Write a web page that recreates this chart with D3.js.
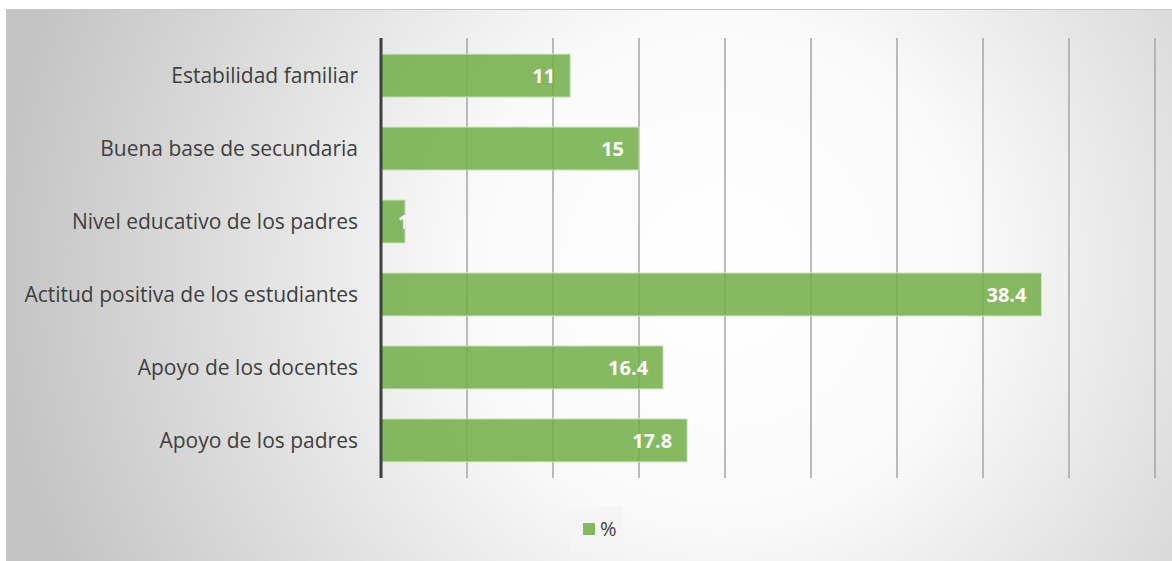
<!DOCTYPE html>
<html>

<head>
  <meta charset="utf-8">
  <title>Factores</title>
  <script type="text/javascript" src="https://cdn.jsdelivr.net/npm/d3@7"></script>
  <style type="text/css">
    body {
      margin: 0;
      background: #ffffff;
    }

    text {
      font-family: "Open Sans", "Liberation Sans", sans-serif;
    }
  </style>
</head>

<body>
  <div id="grafico"></div>

  <script type="text/javascript">
    // Datos
    const categorias = [
      "Estabilidad familiar",
      "Buena base de secundaria",
      "Nivel educativo de los padres",
      "Actitud positiva de los estudiantes",
      "Apoyo de los docentes",
      "Apoyo de los padres"
    ];
    const valores = [11, 15, 1.4, 38.4, 16.4, 17.8];
    const serie = "%";
    const ticks = [0, 5, 10, 15, 20, 25, 30, 35, 40, 45];

    const w = 1172;
    const h = 561;
    const margin = { left: 381, right: 17, top: 38, bottom: 83 };

    const svg = d3.select("#grafico")
      .append("svg")
      .attr("width", w)
      .attr("height", h);

    // Baggrund med radial gradient
    const defs = svg.append("defs");
    const grad = defs.append("radialGradient")
      .attr("id", "bg")
      .attr("gradientUnits", "userSpaceOnUse")
      .attr("cx", 720).attr("cy", 270).attr("r", 720);
    grad.append("stop").attr("offset", "0").attr("stop-color", "#ffffff");
    grad.append("stop").attr("offset", "0.35").attr("stop-color", "#fafafa");
    grad.append("stop").attr("offset", "1").attr("stop-color", "#c4c4c4");

    svg.append("rect")
      .attr("x", 6).attr("y", 9)
      .attr("width", w - 6).attr("height", h - 9)
      .attr("fill", "url(#bg)");
    svg.append("line")
      .attr("x1", 6).attr("x2", w)
      .attr("y1", 9.5).attr("y2", 9.5)
      .attr("stroke", "#c8c8c8").attr("stroke-width", 1);

    const x = d3.scaleLinear()
      .domain([0, 45])
      .range([margin.left, w - margin.right]);

    const y = d3.scaleBand()
      .domain(categorias)
      .range([margin.top, h - margin.bottom])
      .paddingInner(0.41)
      .paddingOuter(0.22);

    // Gitterlinjer
    svg.append("g")
      .selectAll("line")
      .data(ticks.slice(1))
      .enter()
      .append("line")
      .attr("x1", d => x(d)).attr("x2", d => x(d))
      .attr("y1", margin.top).attr("y2", h - margin.bottom)
      .attr("stroke", "#a6a6a6")
      .attr("stroke-width", 1.5);

    // Søjler
    svg.append("g")
      .selectAll("rect")
      .data(valores)
      .enter()
      .append("rect")
      .attr("x", x(0))
      .attr("y", (d, i) => y(categorias[i]))
      .attr("width", d => x(d) - x(0))
      .attr("height", y.bandwidth())
      .attr("fill", "rgb(112,173,71)")
      .attr("fill-opacity", 0.85)
      .attr("stroke", "#d3e8c6")
      .attr("stroke-width", 1);

    // Clip til labels
    valores.forEach(function (d, i) {
      defs.append("clipPath")
        .attr("id", "clip" + i)
        .append("rect")
        .attr("x", x(0))
        .attr("y", y(categorias[i]))
        .attr("width", x(d) - x(0))
        .attr("height", y.bandwidth());
    });

    // Værdi labels
    svg.append("g")
      .selectAll("text")
      .data(valores)
      .enter()
      .append("text")
      .attr("clip-path", (d, i) => "url(#clip" + i + ")")
      .attr("x", d => d < 3 ? x(d) - 7 : x(d) - 15)
      .attr("y", (d, i) => y(categorias[i]) + y.bandwidth() / 2)
      .attr("dy", "0.36em")
      .attr("text-anchor", d => d < 3 ? "start" : "end")
      .attr("fill", "#ffffff")
      .attr("font-weight", "bold")
      .attr("font-size", "20px")
      .text(d => d);

    // Kategori akse
    svg.append("g")
      .selectAll("text")
      .data(categorias)
      .enter()
      .append("text")
      .attr("x", margin.left - 23)
      .attr("y", d => y(d) + y.bandwidth() / 2)
      .attr("dy", "0.36em")
      .attr("text-anchor", "end")
      .attr("fill", "#404040")
      .attr("font-size", "21px")
      .text(d => d);

    svg.append("line")
      .attr("x1", x(0)).attr("x2", x(0))
      .attr("y1", margin.top).attr("y2", h - margin.bottom)
      .attr("stroke", "#404040")
      .attr("stroke-width", 3);

    // Legend
    const leg = svg.append("g");
    leg.append("rect")
      .attr("x", 570).attr("y", 507)
      .attr("width", 53).attr("height", 44)
      .attr("fill", "#f5f5f5");
    leg.append("rect")
      .attr("x", 583).attr("y", 523)
      .attr("width", 12).attr("height", 12)
      .attr("fill", "rgb(112,173,71)")
      .attr("fill-opacity", 0.85);
    leg.append("text")
      .attr("x", 600).attr("y", 529)
      .attr("dy", "0.36em")
      .attr("fill", "#404040")
      .attr("font-size", "20px")
      .text(serie);
  </script>
</body>

</html>
